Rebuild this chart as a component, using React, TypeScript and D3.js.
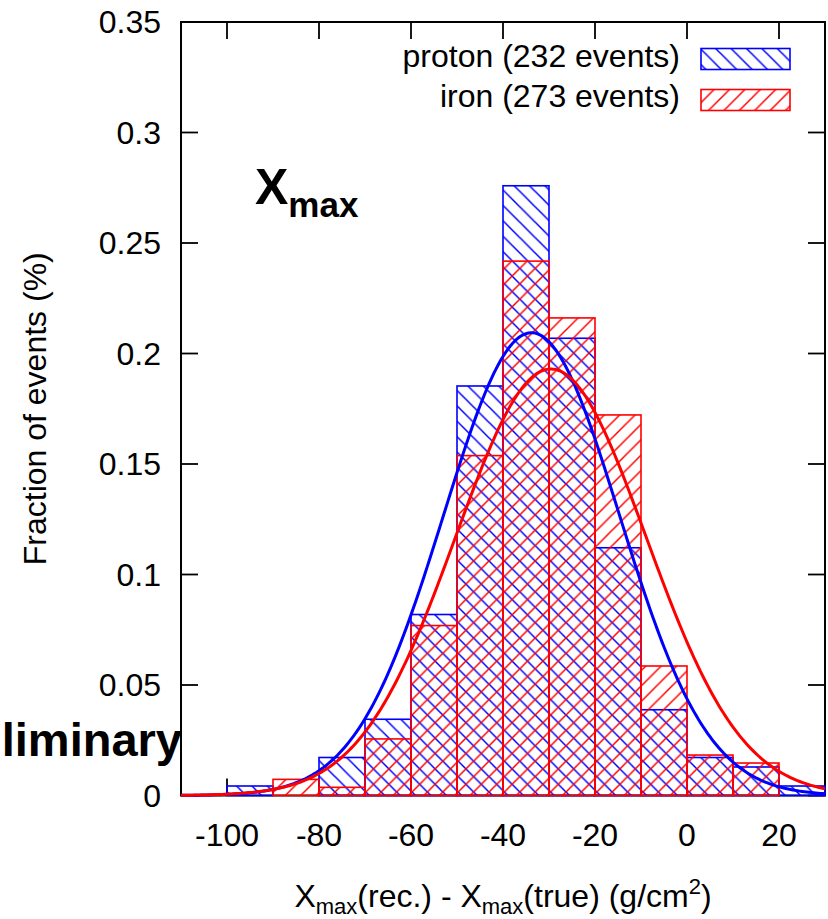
import React from "react";
import * as d3 from "d3";

// ---- data ----
const binStarts = [-100, -90, -80, -70, -60, -50, -40, -30, -20, -10, 0, 10, 20];
const binWidth = 10;
const protonFraction = [0.0043, 0, 0.0172, 0.0345, 0.0819, 0.1853, 0.2759, 0.2069, 0.1121, 0.0388, 0.0172, 0.0129, 0.0043];
const ironFraction = [0, 0.0073, 0.0037, 0.0256, 0.0769, 0.1538, 0.2418, 0.2161, 0.1722, 0.0586, 0.0183, 0.0147, 0];
// Gaussian fits: [mean, sigma, amplitude]
const protonFit = [-33.8, 19.1, 0.2094];
const ironFit = [-29.6, 20.7, 0.193];
const xTicks = [-100, -80, -60, -40, -20, 0, 20];
const yTicks = [0, 0.05, 0.1, 0.15, 0.2, 0.25, 0.3, 0.35];
const yTickLabels = ["0", "0.05", "0.1", "0.15", "0.2", "0.25", "0.3", "0.35"];
const legendLabels = ["proton (232 events)", "iron (273 events)"];

const W = 828, H = 919;
const L = 181, R = 825, T = 22, B = 795.5;
const FONT = "'Liberation Sans', Arial, Helvetica, sans-serif";
const FS = 32;
const BLUE = "#0000ff";
const RED = "#ff0000";

export default function App() {
  const x = d3.scaleLinear().domain([-110, 30]).range([L, R]);
  const y = d3.scaleLinear().domain([0, 0.35]).range([B, T]);
  const h = 15.4;

  const gauss = (p: number[]) => {
    const pts: [number, number][] = [];
    for (let v = -110; v <= 30.001; v += 0.5) {
      pts.push([v, p[2] * Math.exp(-((v - p[0]) ** 2) / (2 * p[1] * p[1]))]);
    }
    return d3.line<[number, number]>().x((d) => x(d[0])).y((d) => y(d[1]))(pts) || "";
  };

  const tick = 17;

  const bars = (vals: number[], color: string, pat: string) =>
    binStarts.map((s, i) =>
      vals[i] > 0 ? (
        <rect
          key={color + i}
          x={x(s)}
          y={y(vals[i])}
          width={x(s + binWidth) - x(s)}
          height={y(0) - y(vals[i])}
          fill={`url(#${pat})`}
          stroke={color}
          strokeWidth={1.6}
        />
      ) : null
    );

  return (
    <svg width={W} height={H} style={{ position: "absolute", left: 0, top: 0, background: "#fff" }} fontFamily={FONT}>
      <defs>
        <pattern id="hatchBack" patternUnits="userSpaceOnUse" width={h} height={h} x={L} y={T}>
          <path
            d={`M0,0 L${h},${h} M${-h / 2},${h / 2} L${h / 2},${1.5 * h} M${h / 2},${-h / 2} L${1.5 * h},${h / 2}`}
            stroke={BLUE}
            strokeWidth={1.5}
          />
        </pattern>
        <pattern id="hatchFwd" patternUnits="userSpaceOnUse" width={h} height={h} x={L} y={T}>
          <path
            d={`M0,${h} L${h},0 M${-h / 2},${h / 2} L${h / 2},${-h / 2} M${h / 2},${1.5 * h} L${1.5 * h},${h / 2}`}
            stroke={RED}
            strokeWidth={1.5}
          />
        </pattern>
        <clipPath id="plotClip">
          <rect x={L} y={T - 2} width={R - L} height={B - T + 4} />
        </clipPath>
      </defs>

      {/* cut-off title descender (title lies above the visible page) */}
      <text x={616} y={-7} fontSize={30} fontWeight="bold" fill="#000">y</text>

      {/* frame */}
      <rect x={L} y={T} width={R - L} height={B - T} fill="none" stroke="#000" strokeWidth={2} />
      {/* ticks */}
      {xTicks.map((t) => (
        <g key={"xt" + t}>
          <line x1={x(t)} x2={x(t)} y1={B} y2={B - tick} stroke="#000" strokeWidth={1.8} />
          <line x1={x(t)} x2={x(t)} y1={T} y2={T + tick} stroke="#000" strokeWidth={1.8} />
          <text x={x(t)} y={846} textAnchor="middle" fontSize={FS} fill="#000">{t}</text>
        </g>
      ))}
      {yTicks.map((t, i) => (
        <g key={"yt" + t}>
          <line x1={L} x2={L + tick} y1={y(t)} y2={y(t)} stroke="#000" strokeWidth={1.8} />
          <line x1={R} x2={R - tick} y1={y(t)} y2={y(t)} stroke="#000" strokeWidth={1.8} />
          <text x={161} y={y(t) + FS * 0.355} textAnchor="end" fontSize={FS} fill="#000">{yTickLabels[i]}</text>
        </g>
      ))}

      {/* bars */}
      <g>{bars(protonFraction, BLUE, "hatchBack")}</g>
      <g>{bars(ironFraction, RED, "hatchFwd")}</g>

      {/* fits */}
      <g clipPath="url(#plotClip)">
        <path d={gauss(protonFit)} fill="none" stroke={BLUE} strokeWidth={3} />
        <path d={gauss(ironFit)} fill="none" stroke={RED} strokeWidth={3} />
      </g>

      {/* legend */}
      <text x={680} y={67} textAnchor="end" fontSize={FS} fill="#000">{legendLabels[0]}</text>
      <rect x={701} y={48.5} width={89} height={21} fill="url(#hatchBack)" stroke={BLUE} strokeWidth={1.6} />
      <text x={680} y={107} textAnchor="end" fontSize={FS} fill="#000">{legendLabels[1]}</text>
      <rect x={701} y={89.5} width={89} height={21} fill="url(#hatchFwd)" stroke={RED} strokeWidth={1.6} />

      {/* Xmax annotation */}
      <text x={255} y={204} fontSize={50} fontWeight="bold" fill="#000">
        X<tspan fontSize={35} dy={13}>max</tspan>
      </text>

      {/* Preliminary (cut off) */}
      <text x={182} y={756} textAnchor="end" fontSize={47} fontWeight="bold" fill="#000">liminary</text>

      {/* axis labels */}
      <text x={(L + R) / 2} y={907} textAnchor="middle" fontSize={FS} fill="#000">
        X<tspan fontSize={22} dy={7}>max</tspan>
        <tspan dy={-7}>(rec.) - X</tspan>
        <tspan fontSize={22} dy={7}>max</tspan>
        <tspan dy={-7}>(true) (g/cm</tspan>
        <tspan fontSize={22} dy={-13}>2</tspan>
        <tspan dy={13}>)</tspan>
      </text>
      <text
        transform={`translate(46,${(T + B) / 2}) rotate(-90)`}
        textAnchor="middle"
        fontSize={FS}
        fill="#000"
      >
        Fraction of events (%)
      </text>
    </svg>
  );
}
